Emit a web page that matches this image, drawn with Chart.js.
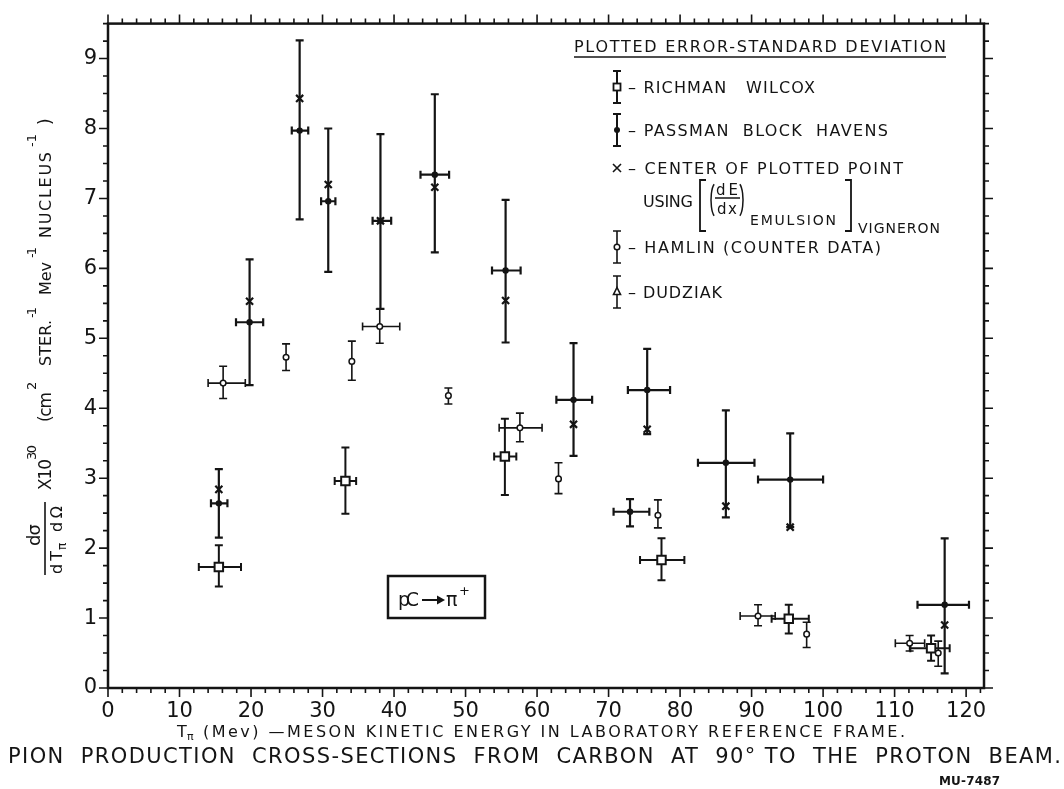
<!DOCTYPE html>
<html>
<head>
<meta charset="utf-8">
<script src="https://cdn.jsdelivr.net/npm/chart.js@4.4.1/dist/chart.umd.min.js"></script>
<style>
  html, body { margin: 0; padding: 0; background: #fff; }
  canvas { display: block; }
</style>
</head>
<body>
<canvas id="chart" width="1064" height="789"></canvas>
<script>
'use strict';

const FONT = '"DejaVu Sans", "Liberation Sans", sans-serif';
const INK = '#141414';

/* ── Data (T in MeV, cross-section x10^30) ── */

// Richman Wilcox (open squares)
const rwX   = [15.5, 33.2, 55.5, 77.4, 95.2, 115.1];
const rwY   = [1.73, 2.96, 3.31, 1.83, 0.99, 0.57];
const rwYLo = [1.45, 2.49, 2.76, 1.54, 0.78, 0.39];
const rwYHi = [2.04, 3.44, 3.85, 2.14, 1.19, 0.75];
const rwXLo = [12.7, 31.7, 54.0, 74.4, 92.8, 112.2];
const rwXHi = [18.6, 34.7, 57.1, 80.6, 98.0, 117.7];

// Passman Block Havens (filled dots)
const pbX   = [15.5, 19.8, 26.8, 30.8, 38.1, 45.7, 55.6, 65.1, 73.0, 75.4, 86.4, 95.4, 117.0];
const pbY   = [2.64, 5.23, 7.97, 6.96, 6.68, 7.34, 5.97, 4.12, 2.52, 4.26, 3.22, 2.98, 1.19];
const pbYLo = [2.15, 4.33, 6.70, 5.95, 5.42, 6.23, 4.94, 3.32, 2.31, 3.63, 2.44, 2.30, 0.21];
const pbYHi = [3.13, 6.13, 9.26, 8.00, 7.92, 8.49, 6.98, 4.93, 2.70, 4.85, 3.97, 3.64, 2.14];
const pbXLo = [14.4, 17.9, 25.7, 29.8, 37.0, 43.7, 53.7, 62.7, 70.7, 72.7, 82.5, 90.9, 113.2];
const pbXHi = [16.7, 21.7, 28.0, 31.8, 39.6, 47.7, 57.7, 67.7, 75.7, 78.6, 90.4, 100.0, 120.4];

// centre of plotted point using (dE/dx) emulsion, Vigneron (crosses)
const cvX = [15.5, 19.8, 26.8, 30.8, 38.1, 45.7, 55.6, 65.1, 75.4, 86.4, 95.4, 117.0];
const cvY = [2.84, 5.53, 8.43, 7.20, 6.68, 7.16, 5.54, 3.77, 3.70, 2.60, 2.30, 0.90];

// Hamlin counter data (small open circles), null = no energy bar
const hmX   = [16.1, 24.9, 34.1, 38.0, 47.6, 57.6, 63.0, 76.9, 90.9, 97.7, 112.1, 116.1];
const hmY   = [4.36, 4.73, 4.67, 5.17, 4.18, 3.72, 2.99, 2.47, 1.03, 0.77, 0.64, 0.50];
const hmYLo = [4.14, 4.54, 4.40, 4.93, 4.06, 3.52, 2.78, 2.29, 0.89, 0.58, 0.53, 0.31];
const hmYHi = [4.60, 4.92, 4.96, 5.42, 4.29, 3.93, 3.22, 2.69, 1.19, 0.94, 0.75, 0.67];
const hmXLo = [14.0, null, null, 35.6, null, 54.7, null, null, 88.4, null, 110.1, null];
const hmXHi = [19.2, null, null, 40.8, null, 60.7, null, null, 93.3, null, 114.2, null];

const xMajor = [0, 10, 20, 30, 40, 50, 60, 70, 80, 90, 100, 110, 120];
const yMajor = [0, 1, 2, 3, 4, 5, 6, 7, 8, 9];

const pts = (xs, ys) => xs.map((v, i) => ({ x: v, y: ys[i] }));

/* ── helpers ── */
function spread(ctx, text, x1, x2, y) {
  ctx.letterSpacing = '0px';
  const w = ctx.measureText(text).width;
  const n = [...text].length;
  const ls = n > 1 ? (x2 - x1 - w) / (n - 1) : 0;
  ctx.letterSpacing = ls + 'px';
  ctx.textAlign = 'left';
  ctx.fillText(text, x1, y);
  ctx.letterSpacing = '0px';
}

function vBar(ctx, px, top, bot, cap) {
  ctx.beginPath();
  ctx.moveTo(px, top); ctx.lineTo(px, bot);
  ctx.moveTo(px - cap, top); ctx.lineTo(px + cap, top);
  ctx.moveTo(px - cap, bot); ctx.lineTo(px + cap, bot);
  ctx.stroke();
}

function hBar(ctx, py, left, right, cap) {
  ctx.beginPath();
  ctx.moveTo(left, py); ctx.lineTo(right, py);
  ctx.moveTo(left, py - cap); ctx.lineTo(left, py + cap);
  ctx.moveTo(right, py - cap); ctx.lineTo(right, py + cap);
  ctx.stroke();
}

/* ── Error bars, drawn under the markers ── */
const errorBars = {
  id: 'errorBars',
  beforeDatasetsDraw(chart) {
    const { ctx, scales: { x, y } } = chart;
    chart.data.datasets.forEach(ds => {
      if (!ds.yLo) return;
      ctx.save();
      ctx.strokeStyle = INK;
      ctx.lineWidth = ds.barWidth;
      ds.data.forEach((p, i) => {
        const px = x.getPixelForValue(p.x);
        const py = y.getPixelForValue(p.y);
        vBar(ctx, px, y.getPixelForValue(ds.yHi[i]), y.getPixelForValue(ds.yLo[i]), 4);
        if (ds.xLo && ds.xLo[i] != null) {
          hBar(ctx, py, x.getPixelForValue(ds.xLo[i]), x.getPixelForValue(ds.xHi[i]), 4);
        }
      });
      ctx.restore();
    });
  },
};

/* ── Frame with outward ticks on all four sides ── */
const frame = {
  id: 'frame',
  afterDraw(chart) {
    const { ctx, chartArea: a, scales: { x, y } } = chart;
    ctx.save();
    ctx.strokeStyle = INK;
    ctx.lineWidth = 2.5;
    ctx.strokeRect(a.left, a.top, a.right - a.left, a.bottom - a.top);

    ctx.lineWidth = 1.6;
    ctx.beginPath();
    for (let v = 0; v <= 122; v += 2) {
      const px = x.getPixelForValue(v);
      const len = v % 10 === 0 ? 9 : 5;
      ctx.moveTo(px, a.bottom); ctx.lineTo(px, a.bottom + len);
      ctx.moveTo(px, a.top); ctx.lineTo(px, a.top - len);
    }
    for (let v = 0; v <= 9.5; v += 0.25) {
      const py = y.getPixelForValue(v);
      const len = Math.abs(v - Math.round(v)) < 1e-6 ? 9 : 5;
      ctx.moveTo(a.left, py); ctx.lineTo(a.left - len, py);
      ctx.moveTo(a.right, py); ctx.lineTo(a.right + len, py);
    }
    ctx.stroke();
    ctx.restore();
  },
};

/* ── Titles, legend, reaction box ── */
const texts = {
  id: 'texts',
  afterDraw(chart) {
    const { ctx } = chart;
    ctx.save();
    ctx.fillStyle = INK;
    ctx.strokeStyle = INK;
    ctx.textBaseline = 'alphabetic';

    // y axis title, rotated
    ctx.save();
    ctx.translate(45, 580);
    ctx.rotate(-Math.PI / 2);
    ctx.lineWidth = 1.6;
    ctx.beginPath(); ctx.moveTo(5, 0); ctx.lineTo(78, 0); ctx.stroke();
    ctx.font = `18px ${FONT}`;
    spread(ctx, 'dσ', 34, 56, -5);
    ctx.font = `16px ${FONT}`;
    spread(ctx, 'dT', 6, 29, 17);
    ctx.font = `12px ${FONT}`;
    ctx.fillText('π', 30, 21);
    ctx.font = `16px ${FONT}`;
    spread(ctx, 'dΩ', 48, 74, 17);
    ctx.font = `17px ${FONT}`;
    spread(ctx, 'X10', 90, 121, 6);
    ctx.font = `13px ${FONT}`;
    spread(ctx, '30', 120, 135, -9);
    ctx.font = `17px ${FONT}`;
    spread(ctx, '(cm', 158, 188, 6);
    ctx.font = `13px ${FONT}`;
    ctx.fillText('2', 190, -9);
    ctx.font = `16px ${FONT}`;
    spread(ctx, 'STER.', 214, 260, 6);
    ctx.font = `13px ${FONT}`;
    spread(ctx, '-1', 262, 273, -9);
    ctx.font = `16px ${FONT}`;
    spread(ctx, 'Mev', 285, 318, 6);
    ctx.font = `13px ${FONT}`;
    spread(ctx, '-1', 322, 333, -9);
    ctx.font = `16px ${FONT}`;
    spread(ctx, 'NUCLEUS', 342, 428, 6);
    ctx.font = `13px ${FONT}`;
    spread(ctx, '-1', 433, 446, -9);
    ctx.font = `17px ${FONT}`;
    ctx.fillText(')', 455, 6);
    ctx.restore();

    // x axis title
    ctx.font = `500 16px ${FONT}`;
    ctx.fillText('T', 177, 737);
    ctx.font = `11px ${FONT}`;
    ctx.fillText('π', 187, 740);
    ctx.font = `500 16px ${FONT}`;
    spread(ctx, '(Mev) —MESON KINETIC ENERGY IN LABORATORY REFERENCE FRAME.', 203, 905, 737);

    // figure caption
    ctx.font = `21px ${FONT}`;
    spread(ctx, 'PION  PRODUCTION  CROSS-SECTIONS  FROM  CARBON  AT  90° TO  THE  PROTON  BEAM.', 8, 1061, 763);
    ctx.font = `bold 12px ${FONT}`;
    spread(ctx, 'MU-7487', 939, 1000, 785);

    // legend
    ctx.font = `16px ${FONT}`;
    spread(ctx, 'PLOTTED ERROR-STANDARD DEVIATION', 574, 946, 52);
    ctx.lineWidth = 1.6;
    ctx.beginPath(); ctx.moveTo(574, 57); ctx.lineTo(946, 57); ctx.stroke();

    const symX = 617;
    const legendBar = (cy, w) => { ctx.lineWidth = w; vBar(ctx, symX, cy - 16, cy + 16, 4); };

    legendBar(87, 2);
    ctx.fillStyle = '#fff'; ctx.lineWidth = 1.8;
    ctx.fillRect(symX - 3.5, 83.5, 7, 7); ctx.strokeRect(symX - 3.5, 83.5, 7, 7);
    ctx.fillStyle = INK;
    spread(ctx, '– RICHMAN   WILCOX', 628, 815, 93);

    legendBar(130, 2);
    ctx.beginPath(); ctx.arc(symX, 130, 3, 0, Math.PI * 2); ctx.fill();
    spread(ctx, '– PASSMAN  BLOCK  HAVENS', 628, 888, 136);

    ctx.lineWidth = 1.6;
    ctx.beginPath();
    ctx.moveTo(symX - 4, 164); ctx.lineTo(symX + 4, 172);
    ctx.moveTo(symX + 4, 164); ctx.lineTo(symX - 4, 172);
    ctx.stroke();
    spread(ctx, '– CENTER OF PLOTTED POINT', 628, 903, 174);

    spread(ctx, 'USING', 643, 693, 207);
    ctx.lineWidth = 1.8;
    ctx.beginPath();
    ctx.moveTo(706, 180); ctx.lineTo(700, 180); ctx.lineTo(700, 231); ctx.lineTo(706, 231);
    ctx.moveTo(845, 180); ctx.lineTo(851, 180); ctx.lineTo(851, 231); ctx.lineTo(845, 231);
    ctx.stroke();
    ctx.lineWidth = 1.5;
    ctx.beginPath(); ctx.ellipse(716, 200, 5, 17, 0, Math.PI * 0.62, Math.PI * 1.38); ctx.stroke();
    ctx.beginPath(); ctx.ellipse(738, 200, 5, 17, 0, -Math.PI * 0.38, Math.PI * 0.38); ctx.stroke();
    ctx.beginPath(); ctx.moveTo(715, 198); ctx.lineTo(740, 198); ctx.stroke();
    ctx.font = `15px ${FONT}`;
    spread(ctx, 'dE', 716, 738, 195);
    spread(ctx, 'dx', 717, 737, 214);
    ctx.font = `14px ${FONT}`;
    spread(ctx, 'EMULSION', 750, 836, 225);
    spread(ctx, 'VIGNERON', 858, 940, 233);

    ctx.font = `16px ${FONT}`;
    legendBar(247, 1.6);
    ctx.fillStyle = '#fff';
    ctx.lineWidth = 1.5;
    ctx.beginPath(); ctx.arc(symX, 247, 2.8, 0, Math.PI * 2); ctx.fill(); ctx.stroke();
    ctx.fillStyle = INK;
    spread(ctx, '– HAMLIN (COUNTER DATA)', 628, 881, 253);

    legendBar(292, 1.6);
    ctx.fillStyle = '#fff';
    ctx.beginPath();
    ctx.moveTo(symX, 287.5); ctx.lineTo(symX + 3.5, 294.5); ctx.lineTo(symX - 3.5, 294.5); ctx.closePath();
    ctx.fill(); ctx.stroke();
    ctx.fillStyle = INK;
    spread(ctx, '– DUDZIAK', 628, 722, 298);

    // reaction box
    ctx.lineWidth = 2.5;
    ctx.strokeRect(388, 576, 97, 42);
    ctx.font = `500 19px ${FONT}`;
    spread(ctx, 'pC', 398, 419, 606);
    ctx.lineWidth = 2;
    ctx.beginPath(); ctx.moveTo(422, 600); ctx.lineTo(440, 600); ctx.stroke();
    ctx.beginPath(); ctx.moveTo(445, 600); ctx.lineTo(437, 595.5); ctx.lineTo(437, 604.5); ctx.closePath(); ctx.fill();
    ctx.fillText('π', 446, 606);
    ctx.font = `13px ${FONT}`;
    ctx.fillText('+', 459, 595);

    ctx.restore();
  },
};

const ctx = document.getElementById('chart').getContext('2d');

new Chart(ctx, {
  type: 'scatter',
  data: {
    datasets: [
      {
        label: 'HAMLIN (COUNTER DATA)',
        data: pts(hmX, hmY),
        yLo: hmYLo, yHi: hmYHi, xLo: hmXLo, xHi: hmXHi, barWidth: 1.6,
        pointStyle: 'circle', pointRadius: 2.8, pointBorderWidth: 1.5,
        pointBackgroundColor: '#fff', pointBorderColor: INK,
      },
      {
        label: 'RICHMAN WILCOX',
        data: pts(rwX, rwY),
        yLo: rwYLo, yHi: rwYHi, xLo: rwXLo, xHi: rwXHi, barWidth: 2,
        pointStyle: 'rect', pointRadius: 6, pointBorderWidth: 2,
        pointBackgroundColor: '#fff', pointBorderColor: INK,
      },
      {
        label: 'PASSMAN BLOCK HAVENS',
        data: pts(pbX, pbY),
        yLo: pbYLo, yHi: pbYHi, xLo: pbXLo, xHi: pbXHi, barWidth: 2.2,
        pointStyle: 'circle', pointRadius: 3.2, pointBorderWidth: 0,
        pointBackgroundColor: INK, pointBorderColor: INK,
      },
      {
        label: 'CENTER OF PLOTTED POINT (VIGNERON)',
        data: pts(cvX, cvY),
        pointStyle: 'crossRot', pointRadius: 5, pointBorderWidth: 2.2,
        pointBorderColor: INK,
      },
    ],
  },
  options: {
    responsive: false,
    animation: false,
    devicePixelRatio: 1,
    events: [],
    layout: { padding: { left: 0, top: 13, right: 80, bottom: 0 } },
    plugins: { legend: { display: false }, tooltip: { enabled: false } },
    scales: {
      x: {
        type: 'linear', min: 0, max: 122.5,
        afterFit: s => { s.height = 101; },
        grid: { display: false, drawTicks: false },
        border: { display: false },
        ticks: {
          stepSize: 10, includeBounds: false, autoSkip: false, maxRotation: 0, padding: 11,
          color: INK, font: { family: FONT, size: 21 },
          callback: v => (xMajor.includes(v) ? String(v) : ''),
        },
      },
      y: {
        type: 'linear', min: 0, max: 9.5,
        afterFit: s => { s.width = 108; },
        grid: { display: false, drawTicks: false },
        border: { display: false },
        ticks: {
          stepSize: 1, includeBounds: false, autoSkip: false, padding: 11,
          color: INK, font: { family: FONT, size: 21 },
          callback: v => (yMajor.includes(v) ? String(v) : ''),
        },
      },
    },
  },
  plugins: [errorBars, frame, texts],
});
</script>
</body>
</html>
